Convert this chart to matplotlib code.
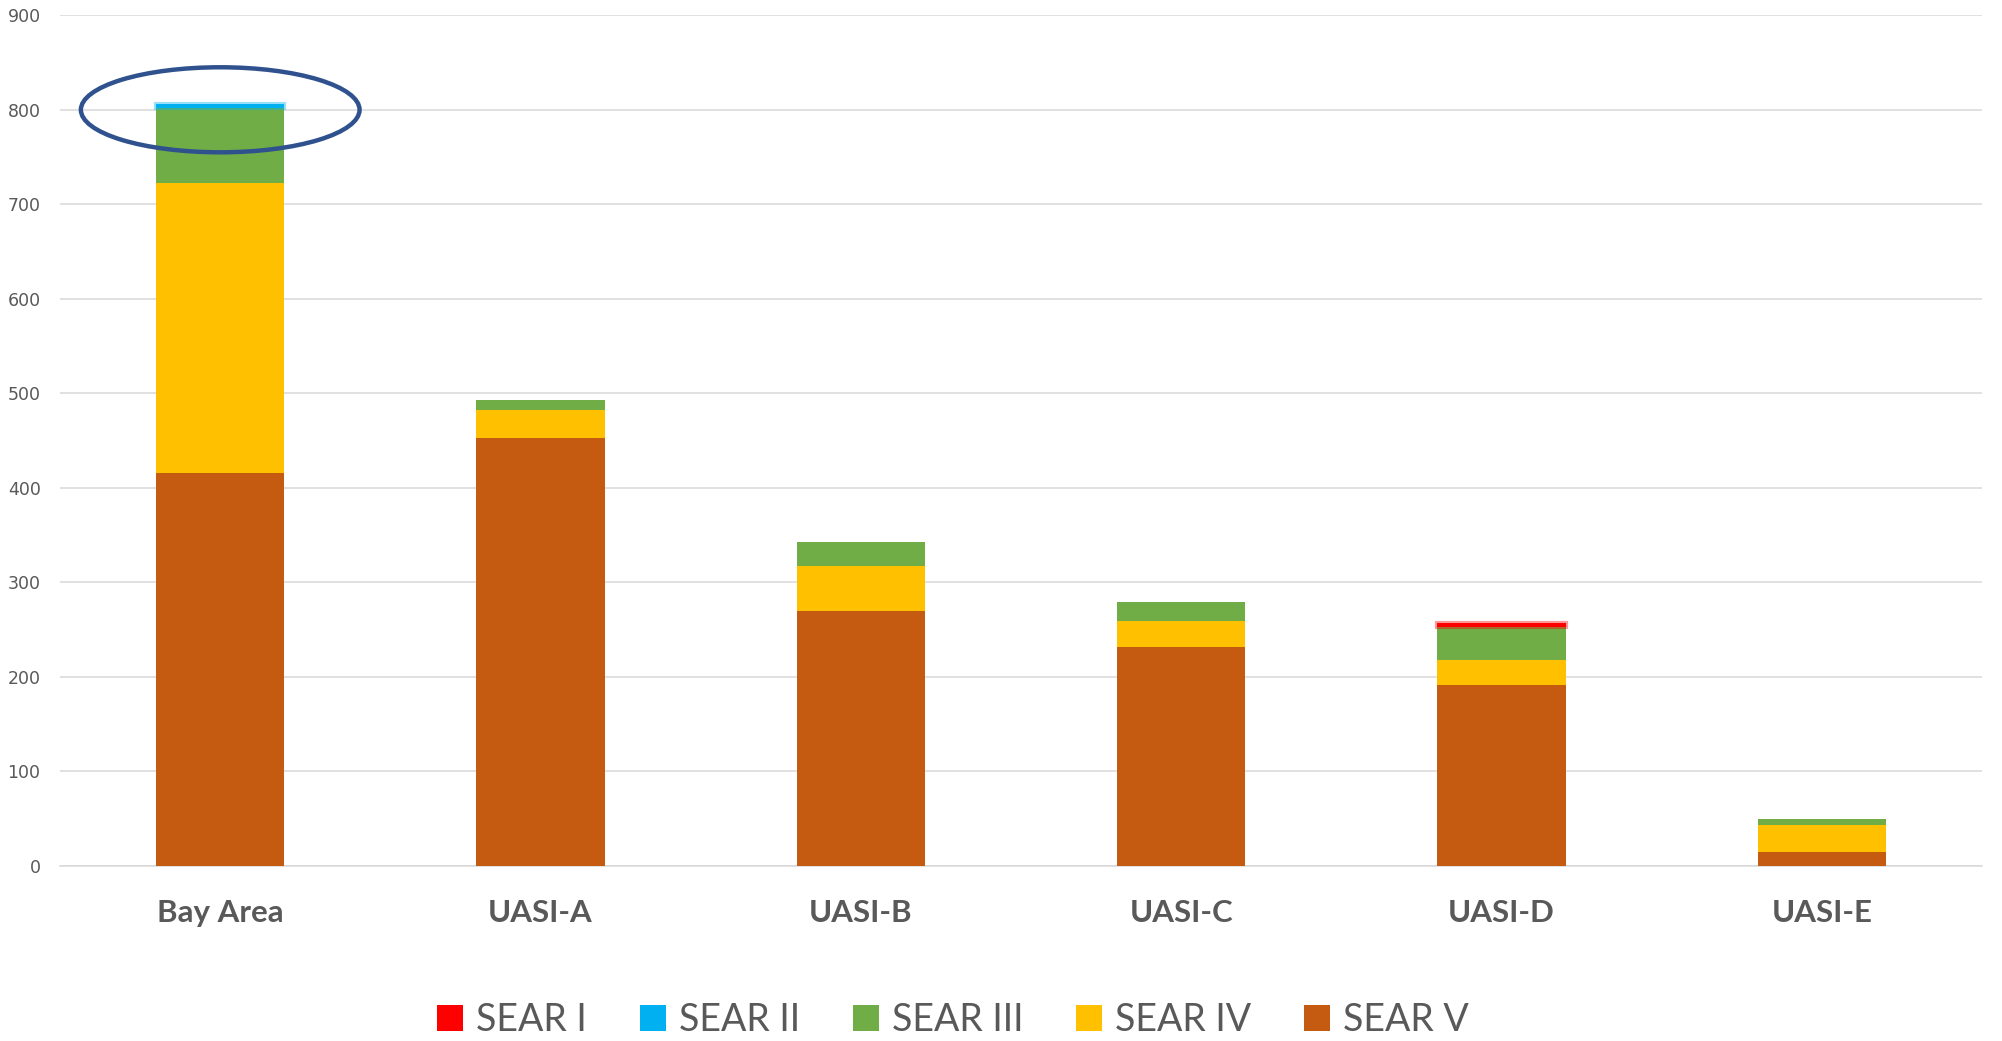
import matplotlib
matplotlib.use("Agg")
import matplotlib.pyplot as plt
from matplotlib.patches import Ellipse, Patch
import numpy as np

# data
regions = ["Bay Area", "UASI-A", "UASI-B", "UASI-C", "UASI-D", "UASI-E"]
sear_v = [416, 453, 270, 231, 191, 14]
sear_iv = [306, 29, 47, 28, 27, 29]
sear_iii = [80, 11, 26, 20, 35, 6]
sear_ii = [4, 0, 0, 0, 0, 0]
sear_i = [0, 0, 0, 0, 4, 0]
series_names = ["SEAR I", "SEAR II", "SEAR III", "SEAR IV", "SEAR V"]
colors = {"SEAR I": "#FF0000", "SEAR II": "#00B0F0", "SEAR III": "#70AD47",
          "SEAR IV": "#FFC000", "SEAR V": "#C55A11"}

grey = "#595959"
fig = plt.figure(figsize=(20.02, 10.41), dpi=100)
ax = fig.add_axes([0.030, 0.1684, 0.960, 0.8169])

x = np.arange(len(regions))
w = 0.4
stack = [("SEAR V", sear_v), ("SEAR IV", sear_iv), ("SEAR III", sear_iii),
         ("SEAR II", sear_ii), ("SEAR I", sear_i)]
bottom = np.zeros(len(regions))
for name, vals in stack:
    vals = np.array(vals, dtype=float)
    if name in ("SEAR I", "SEAR II"):
        # thin glowing slivers, only where there is a value
        m = vals > 0
        ax.bar(x[m], vals[m], w, bottom=bottom[m], color=colors[name],
               edgecolor=colors[name], linewidth=3, alpha=0.4, zorder=3)
        ax.bar(x[m], vals[m], w, bottom=bottom[m], color=colors[name],
               linewidth=0, zorder=4)
    else:
        ax.bar(x, vals, w, bottom=bottom, color=colors[name], linewidth=0, zorder=3)
    bottom += vals

# annotation ellipse around Bay Area top
ell = Ellipse((0, 800), 0.87, 90, fill=False, edgecolor="#2F528F",
              linewidth=3.2, zorder=5, clip_on=False)
ax.add_patch(ell)

ax.set_xlim(-0.5, len(regions) - 0.5)
ax.set_ylim(0, 900)
ax.set_yticks(np.arange(0, 901, 100))
ax.grid(axis="y", color="#D9D9D9", linewidth=1.1, zorder=0)
ax.set_axisbelow(True)
for s in ["top", "right", "left"]:
    ax.spines[s].set_visible(False)
ax.spines["bottom"].set_color("#D9D9D9")
ax.spines["bottom"].set_linewidth(1.1)
ax.tick_params(axis="both", length=0)
ax.tick_params(axis="y", pad=14, labelsize=12.5, labelcolor=grey)
ax.set_xticks(x)
ax.set_xticklabels(regions, fontsize=22.5, fontweight="bold", color=grey,
                   family="Lato")
ax.tick_params(axis="x", pad=24)

handles = [Patch(facecolor=colors[n], edgecolor="none") for n in series_names]
leg = fig.legend(handles, series_names, loc="center", bbox_to_anchor=(0.476, 0.02),
                 ncol=5, frameon=False, handlelength=0.7, handleheight=0.7,
                 handletextpad=0.35, columnspacing=1.4,
                 prop={"family": "Lato", "size": 27})
for t in leg.get_texts():
    t.set_color(grey)

fig.savefig("out.png", dpi=100)
